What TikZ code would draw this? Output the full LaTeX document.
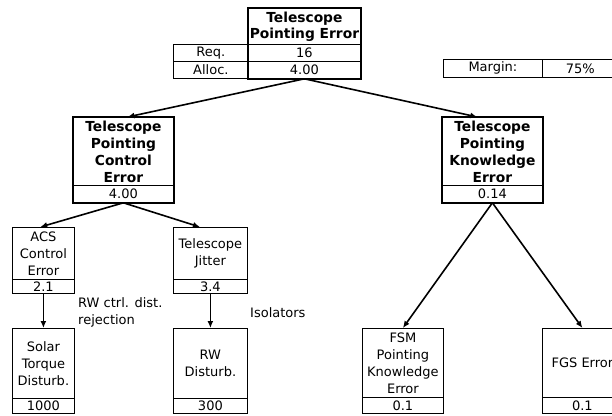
\documentclass[tikz,border=0pt]{standalone}
\usepackage{fontspec}
\setmainfont{DejaVu Sans}
\usetikzlibrary{arrows.meta,calc}
\tikzset{
  cell/.style={
    draw,
    line width=0.8pt,
    inner sep=0pt,
    anchor=north west,
    align=center,
  },
  head/.style={
    font=\fontsize{13.8}{17}\selectfont\bfseries,
  },
  frame/.style={line width=1.6pt},
  link/.style={line width=1.6pt, -{Latex[length=7pt,width=6pt]}},
  note/.style={anchor=west, align=left, inner sep=0pt},
}

\begin{document}
\begin{tikzpicture}[x=1pt, y=-1pt, font=\fontsize{13}{17}\selectfont]
  \useasboundingbox (0,0) rectangle (612,415);

  % top level
  \node[cell, head, minimum width=112pt, minimum height=36pt] (tpe) at (248,8) {Telescope\\[-1pt]Pointing Error};
  \node[cell, minimum width=112pt, minimum height=17pt] (req) at (248,44) {16};
  \node[cell, minimum width=112pt, minimum height=17pt] (alloc) at (248,61) {4.00};
  \node[cell, minimum width=75pt, minimum height=17pt] (reqlbl) at (173,44) {Req.};
  \node[cell, minimum width=75pt, minimum height=17pt] (alloclbl) at (173,61) {Alloc.};
  \draw[frame] (tpe.north west) rectangle (alloc.south east);

  \node[cell, minimum width=99pt, minimum height=18pt] (marginlbl) at (443,59) {Margin:};
  \node[cell, minimum width=76pt, minimum height=18pt] (margin) at (542,59) {75\%};

  % second level
  \node[cell, head, minimum width=100pt, minimum height=68pt] (ctrl) at (73,117) {Telescope\\Pointing\\Control\\Error};
  \node[cell, minimum width=100pt, minimum height=17pt] (ctrlv) at (73,185) {4.00};
  \draw[frame] (ctrl.north west) rectangle (ctrlv.south east);

  \node[cell, head, minimum width=100pt, minimum height=68pt] (know) at (442,117) {Telescope\\Pointing\\Knowledge\\Error};
  \node[cell, minimum width=100pt, minimum height=17pt] (knowv) at (442,185) {0.14};
  \draw[frame] (know.north west) rectangle (knowv.south east);

  % third level
  \node[cell, minimum width=62pt, minimum height=52pt] (acs) at (12,227) {ACS\\Control\\Error};
  \node[cell, minimum width=62pt, minimum height=14pt] (acsv) at (12,279) {2.1};
  \node[cell, minimum width=74pt, minimum height=52pt] (jitter) at (173,227) {Telescope\\Jitter};
  \node[cell, minimum width=74pt, minimum height=14pt] (jitterv) at (173,279) {3.4};

  % disturbances
  \node[cell, minimum width=62pt, minimum height=70pt] (solar) at (12,328) {Solar\\Torque\\Disturb.};
  \node[cell, minimum width=62pt, minimum height=15pt] (solarv) at (12,398) {1000};
  \node[cell, minimum width=74pt, minimum height=70pt] (rw) at (173,328) {RW\\Disturb.};
  \node[cell, minimum width=74pt, minimum height=15pt] (rwv) at (173,398) {300};

  \node[cell, minimum width=81pt, minimum height=69pt] (fsm) at (362,328) {FSM\\Pointing\\Knowledge\\Error};
  \node[cell, minimum width=81pt, minimum height=16pt] (fsmv) at (362,397) {0.1};
  \node[cell, minimum width=80pt, minimum height=69pt] (fgs) at (542,328) {FGS Error};
  \node[cell, minimum width=80pt, minimum height=16pt] (fgsv) at (542,397) {0.1};

  \node[note] (rwnote) at (78,312) {RW ctrl. dist.\\rejection};
  \node[note] (isol) at (250,313) {Isolators};

  % flow-down
  \draw[link] (alloc.south) -- ($(ctrl.north west)!0.54!(ctrl.north east)$);
  \draw[link] (alloc.south) -- ($(know.north west)!0.35!(know.north east)$);
  \draw[link] (ctrlv.south) -- ($(acs.north west)!0.45!(acs.north east)$);
  \draw[link] (ctrlv.south) -- ($(jitter.north west)!0.36!(jitter.north east)$);
  \draw[link] (acsv.south) -- (solar.north);
  \draw[link] (jitterv.south) -- (rw.north);
  \draw[link] (knowv.south) -- (fsm.north);
  \draw[link] (knowv.south) -- (fgs.north);

\end{tikzpicture}
\end{document}
